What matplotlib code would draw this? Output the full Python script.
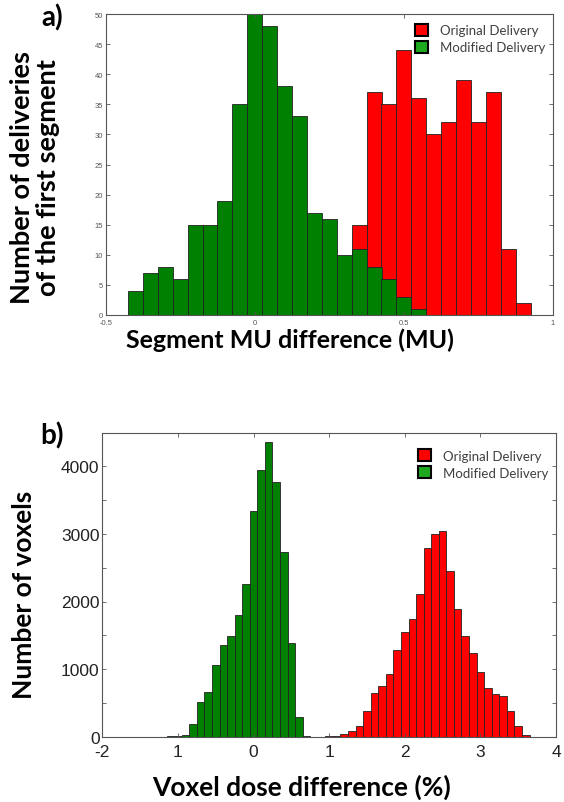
import numpy as np
import matplotlib
matplotlib.use("Agg")
import matplotlib.pyplot as plt
from matplotlib.patches import Patch

# --- panel a: segment MU difference (bin width 0.05) ---
a_green_centers = np.round(np.arange(-0.40, 0.551, 0.05), 2)
a_green_counts = [4, 7, 8, 6, 15, 15, 19, 35, 50, 48, 38, 33, 17, 16, 10, 11, 8, 6, 3, 1]
a_red_centers = np.round(np.arange(0.35, 0.901, 0.05), 2)
a_red_counts = [15, 37, 35, 44, 36, 30, 32, 39, 32, 37, 11, 2]

# --- panel b: voxel dose difference (bin width 0.1) ---
b_green_centers = np.round(np.arange(-1.1, 0.71, 0.1), 1)
b_green_counts = [5, 15, 25, 190, 515, 668, 1064, 1351, 1483, 1807, 2262, 3342,
                  3941, 4361, 3767, 2733, 1391, 295, 12]
b_red_centers = np.round(np.arange(1.0, 3.61, 0.1), 1)
b_red_counts = [8, 15, 40, 90, 163, 386, 644, 757, 931, 1287, 1550, 1748, 2109,
                2787, 3000, 3045, 2450, 1886, 1490, 1233, 955, 718, 639, 599,
                376, 163, 25]

legend_labels = ["Original Delivery", "Modified Delivery"]
RED = "#ff0000"
GREEN = "#008000"
LEG_GREEN = "#1eaa1e"

W, H = 564, 803
fig = plt.figure(figsize=(W / 100, H / 100), dpi=100)


def px_axes(left, top, right, bottom):
    return fig.add_axes([left / W, 1 - bottom / H, (right - left) / W, (bottom - top) / H])


def style(ax, size, color, xpad):
    ax.tick_params(direction="in", top=True, right=True, length=3, width=0.6,
                   labelsize=size, labelcolor=color, color="#555555", pad=2)
    ax.tick_params(axis="x", pad=xpad)
    for s in ax.spines.values():
        s.set_color("#555555")
        s.set_linewidth(0.8)
    for lab in ax.get_xticklabels() + ax.get_yticklabels():
        lab.set_family(["Liberation Sans", "DejaVu Sans"])


def add_legend(ax, x, y):
    handles = [Patch(facecolor=RED, edgecolor="black", linewidth=1.5),
               Patch(facecolor=LEG_GREEN, edgecolor="black", linewidth=1.5)]
    leg = ax.legend(handles, legend_labels, loc="upper left", bbox_to_anchor=(x, y),
                    frameon=False, borderpad=0, borderaxespad=0, handlelength=1.0,
                    handleheight=1.0, handletextpad=0.9, labelspacing=0.35,
                    prop={"family": "Lato", "size": 9.5})
    for t in leg.get_texts():
        t.set_color("#404040")


# panel a
ax1 = px_axes(105.7, 15, 553, 316)
ax1.bar(a_red_centers, a_red_counts, width=0.0503, color=RED, edgecolor="#222222", linewidth=0.6)
ax1.bar(a_green_centers, a_green_counts, width=0.0503, color=GREEN, edgecolor="#222222", linewidth=0.6)
ax1.set_xlim(-0.5, 1)
ax1.set_ylim(0, 50)
ax1.set_xticks([-0.5, 0, 0.5, 1])
ax1.set_xticklabels(["-0.5", "0", "0.5", "1"])
ax1.set_yticks(range(0, 51, 5))
style(ax1, 5.5, "#555555", 3)
add_legend(ax1, 0.692, 0.967)

fig.text(52 / W, 1 - 18 / H, "a)", fontsize=20, fontweight="bold", family="Lato",
         ha="center", va="center")
fig.text(35 / W, 1 - 178 / H, "Number of deliveries\nof the first segment", fontsize=19.5,
         fontweight="bold", family="Lato", rotation=90, ha="center", va="center",
         linespacing=1.1)
fig.text(290 / W, 1 - 340 / H, "Segment MU difference (MU)", fontsize=18,
         fontweight="bold", family="Lato", ha="center", va="center")

# panel b
ax2 = px_axes(102.3, 433.5, 556, 737.7)
ax2.bar(b_red_centers, b_red_counts, width=0.1, color=RED, edgecolor="#222222", linewidth=0.6)
ax2.bar(b_green_centers, b_green_counts, width=0.1, color=GREEN, edgecolor="#222222", linewidth=0.6)
ax2.set_xlim(-2, 4)
ax2.set_ylim(0, 4500)
ax2.set_xticks(range(-2, 5))
ax2.set_xticklabels(["-2", "1", "0", "1", "2", "3", "4"])
ax2.set_yticks(range(0, 4501, 500))
ax2.set_yticklabels([str(v) if v % 1000 == 0 else "" for v in range(0, 4501, 500)])
style(ax2, 12.5, "#222222", 5)
add_legend(ax2, 0.696, 0.945)

fig.text(52 / W, 1 - 436 / H, "b)", fontsize=20, fontweight="bold", family="Lato",
         ha="center", va="center")
fig.text(24 / W, 1 - 595 / H, "Number of voxels", fontsize=19, fontweight="bold",
         family="Lato", rotation=90, ha="center", va="center")
fig.text(302 / W, 1 - 787 / H, "Voxel dose difference (%)", fontsize=19,
         fontweight="bold", family="Lato", ha="center", va="center")

fig.savefig("out.png", dpi=100)
